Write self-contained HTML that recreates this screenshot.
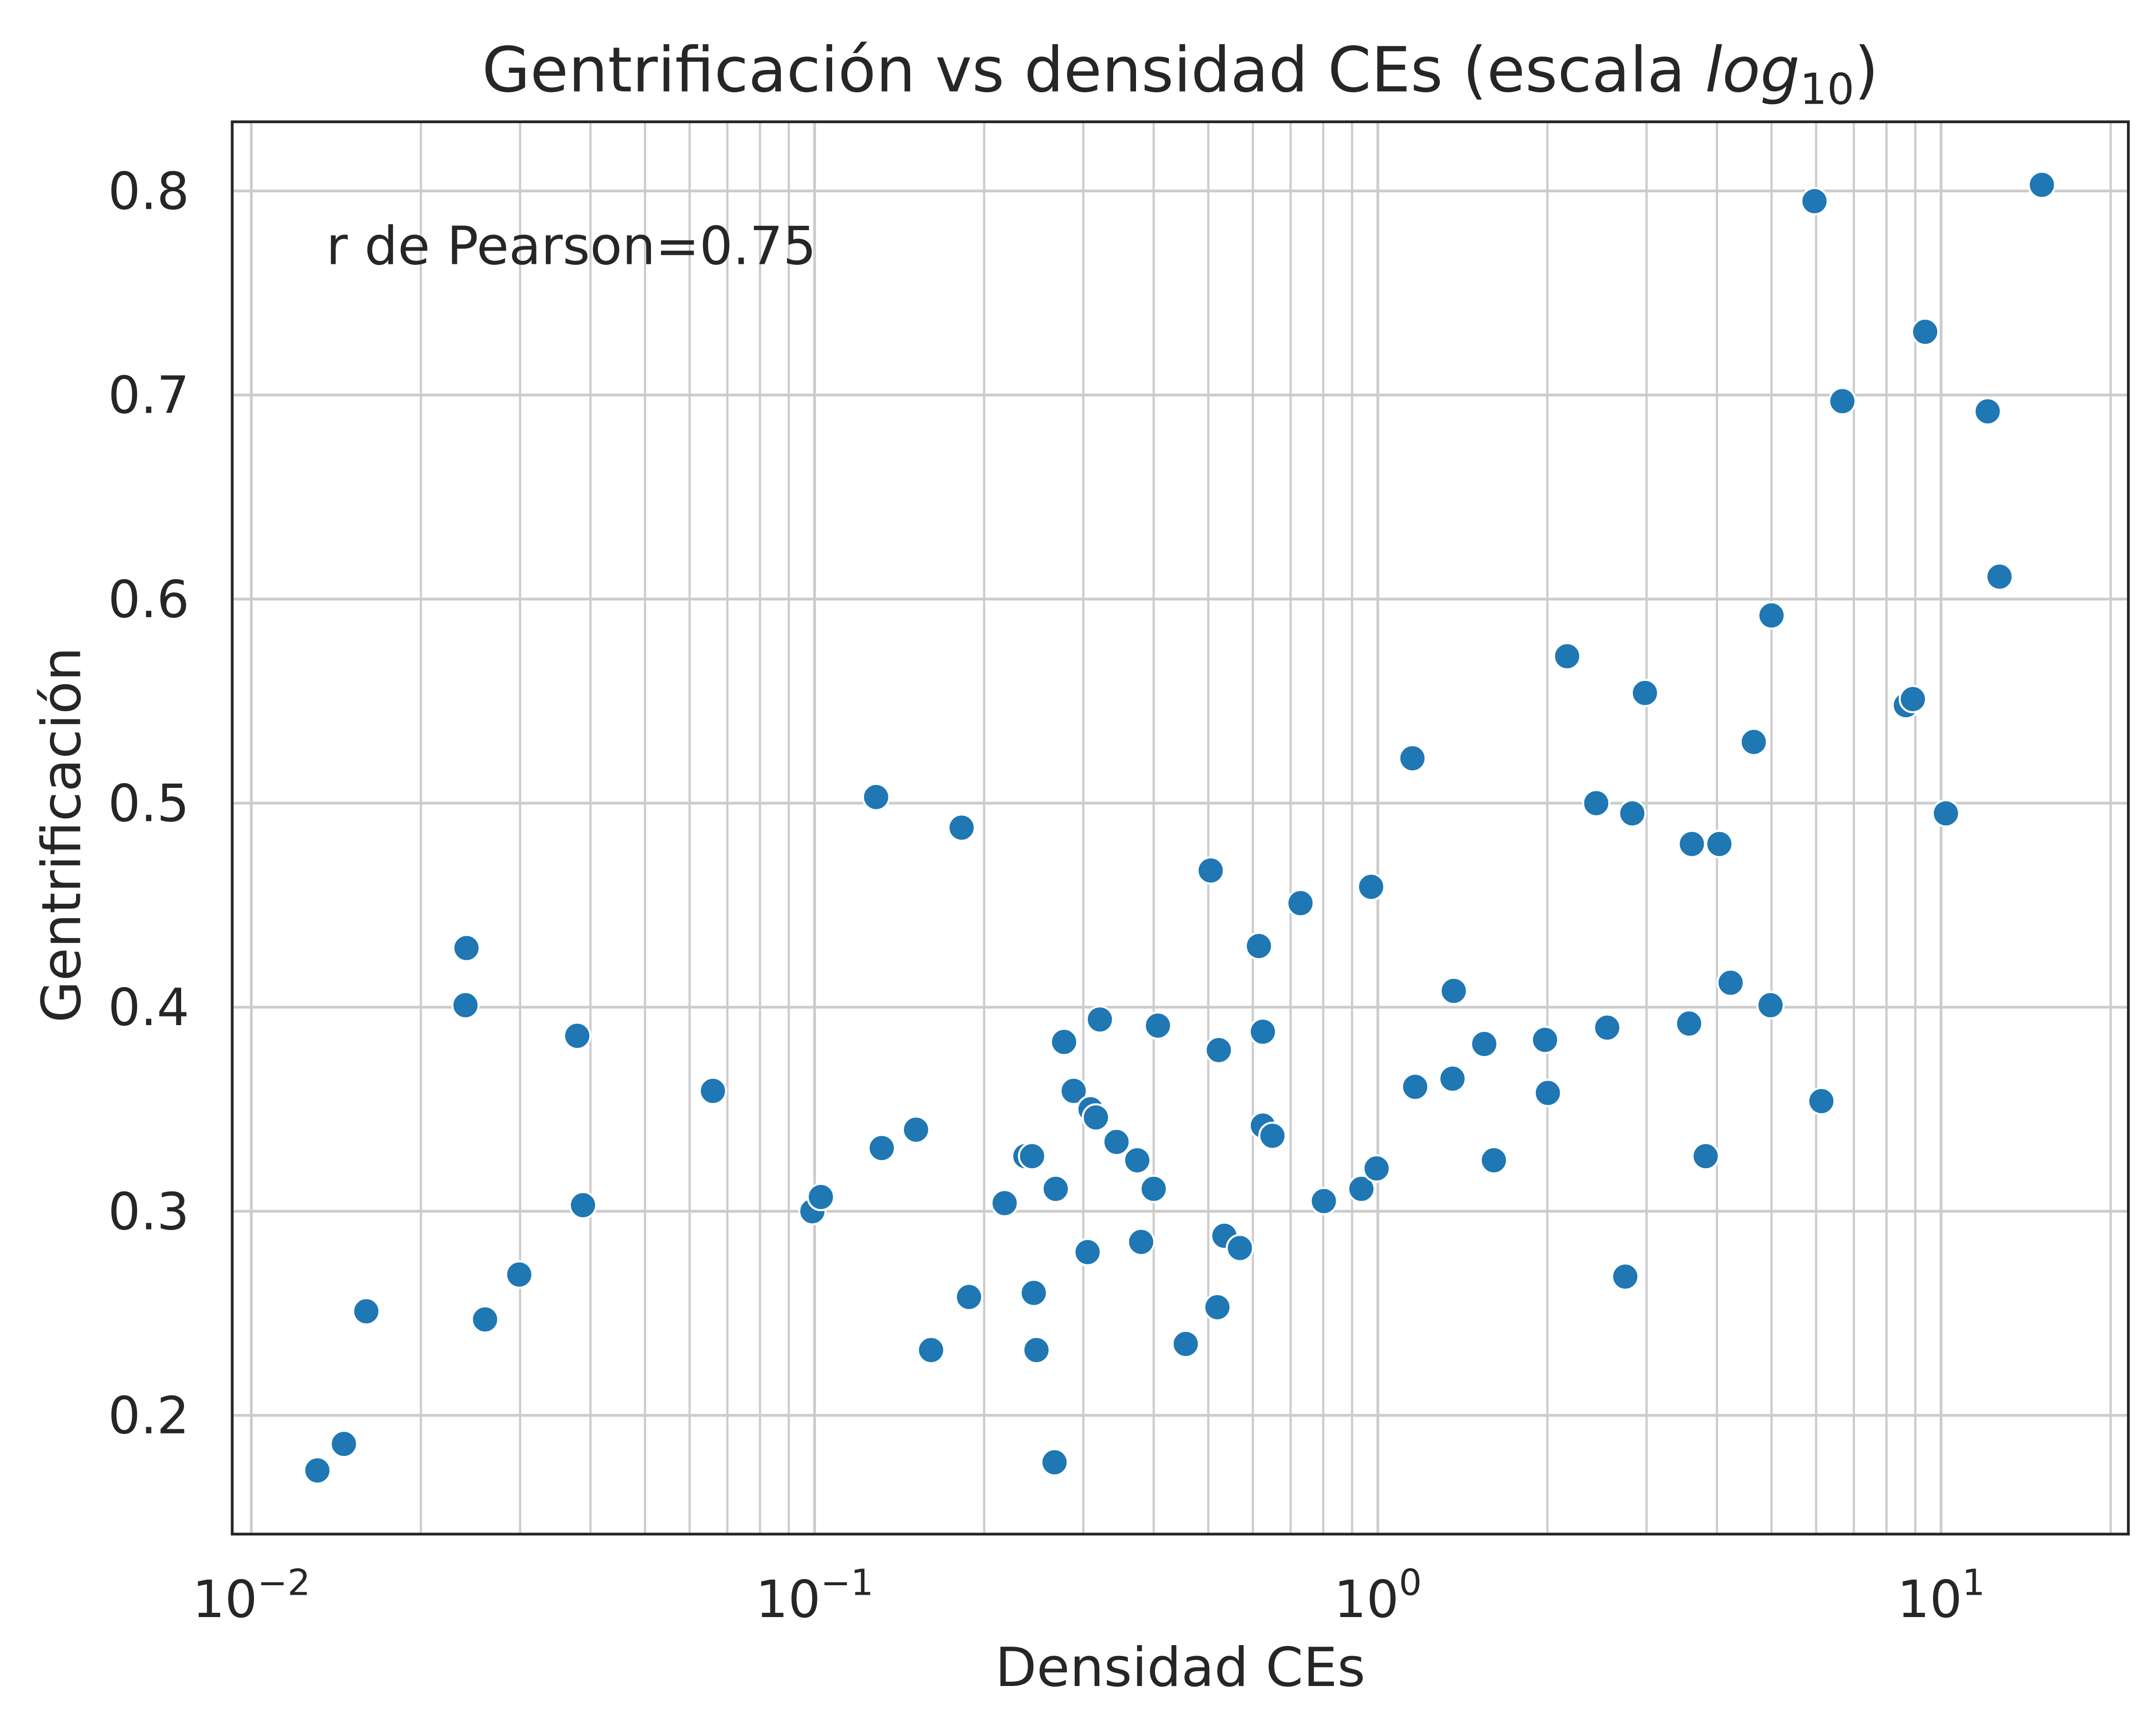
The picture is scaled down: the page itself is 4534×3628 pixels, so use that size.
<!DOCTYPE html>
<html><head><meta charset="utf-8"><style>html,body{margin:0;padding:0;background:#fff}svg{display:block}</style></head>
<body>
<svg id="chart" width="4534" height="3628" viewBox="0 0 1560 1248" xmlns="http://www.w3.org/2000/svg" font-family="'DejaVu Sans','Liberation Sans',sans-serif">
<rect x="0" y="0" width="1560" height="1248" fill="#fff"/>
<g id="grid"></g>
<g id="points"></g>
<rect x="168" y="88" width="1372" height="1022" fill="none" stroke="#262626" stroke-width="2"/>
<g id="ticks" fill="#262626" font-size="37"></g>
<text x="854" y="66" text-anchor="middle" font-size="45" fill="#262626">Gentrificación vs densidad CEs (escala <tspan font-style="italic">log</tspan><tspan font-size="31" dy="9">10</tspan><tspan dy="-9">)</tspan></text>
<text x="854" y="1220" text-anchor="middle" font-size="39" fill="#262626">Densidad CEs</text>
<text transform="translate(58,604) rotate(-90)" text-anchor="middle" font-size="39" fill="#262626">Gentrificación</text>
<text x="236" y="191" font-size="38" fill="#262626">r de Pearson=0.75</text>
</svg>
<script>
const xValues=[0.0131,0.0146,0.0160,0.0241,0.0240,0.0260,0.0299,0.0379,0.0388,0.0660,0.0991,0.1026,0.1286,0.1316,0.1514,0.161,0.1824,0.188,0.2175,0.2367,0.2433,0.245,0.2477,0.2667,0.268,0.2773,0.2884,0.3053,0.309,0.3158,0.321,0.3436,0.374,0.380,0.400,0.407,0.456,0.505,0.519,0.522,0.534,0.569,0.615,0.625,0.625,0.650,0.729,0.802,0.935,0.973,0.995,1.152,1.165,1.357,1.364,1.545,1.607,1.981,2.004,2.168,2.442,2.554,2.75,2.83,2.98,3.57,3.61,3.82,4.04,4.23,4.65,4.98,5.00,5.96,6.13,6.68,8.66,8.91,9.37,10.2,12.1,12.7,15.1];
const yValues=[0.173,0.186,0.251,0.429,0.401,0.247,0.269,0.386,0.303,0.359,0.300,0.307,0.503,0.331,0.340,0.232,0.488,0.258,0.304,0.327,0.327,0.260,0.232,0.177,0.311,0.383,0.359,0.280,0.350,0.346,0.394,0.334,0.325,0.285,0.311,0.391,0.235,0.467,0.253,0.379,0.288,0.282,0.430,0.388,0.342,0.337,0.451,0.305,0.311,0.459,0.321,0.522,0.361,0.365,0.408,0.382,0.325,0.384,0.358,0.572,0.500,0.390,0.268,0.495,0.554,0.392,0.480,0.327,0.480,0.412,0.530,0.401,0.592,0.795,0.354,0.697,0.548,0.551,0.731,0.495,0.692,0.611,0.803];
const xTickExps=[-2,-1,0,1];
const yTicks=[0.2,0.3,0.4,0.5,0.6,0.7,0.8];
const yTickLabels=["0.2","0.3","0.4","0.5","0.6","0.7","0.8"];
const L=168,R=1540,T=88,B=1110,xmin=-2.034,xmax=1.3325,ymin=0.1418,ymax=0.8339;
const NS="http://www.w3.org/2000/svg";
function sx(v){return L+(Math.log10(v)-xmin)/(xmax-xmin)*(R-L);}
function sy(v){return B-(v-ymin)/(ymax-ymin)*(B-T);}
function mk(t,a,p){const e=document.createElementNS(NS,t);for(const k in a)e.setAttribute(k,a[k]);p.appendChild(e);return e;}
const grid=document.getElementById('grid'),pts=document.getElementById('points'),ticks=document.getElementById('ticks');
for(let d=-2;d<=1;d++){for(let m=1;m<10;m++){const v=m*Math.pow(10,d);const x=sx(v);if(x<L||x>R)continue;
const ln=mk('line',{x1:x,x2:x,y1:T,y2:B,stroke:'#cccccc','stroke-width':m===1?2:1.6},grid);

}}
yTicks.forEach((v,i)=>{const y=sy(v);
const ln=mk('line',{x1:L,x2:R,y1:y,y2:y,stroke:'#cccccc','stroke-width':2},grid);


const t=mk('text',{x:L-31,y:y+13,'text-anchor':'end'},ticks);t.textContent=yTickLabels[i];

});
xTickExps.forEach(e=>{const x=sx(Math.pow(10,e));
const t=mk('text',{x:x,y:1170,'text-anchor':'middle'},ticks);


const a=mk('tspan',{},t);a.textContent='10';
const b=mk('tspan',{'font-size':'26',dy:'-16'},t);b.textContent=(e<0?'\u2212':'')+Math.abs(e);});
xValues.forEach((v,i)=>{const c=mk('circle',{cx:sx(v),cy:sy(yValues[i]),r:9.5,fill:'#1f77b4',stroke:'#fff','stroke-width':1.5},pts);

});
</script>
</body></html>
